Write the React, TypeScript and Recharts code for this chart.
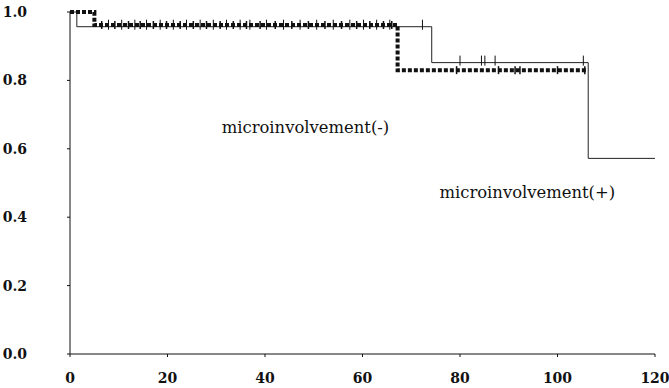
import React from "react";
import {
  ComposedChart,
  Line,
  Scatter,
  XAxis,
  YAxis,
  ReferenceDot,
} from "recharts";

// step points of each Kaplan-Meier curve (months, survival)
const plusTime = [0, 1.4, 74.2, 106.3, 120];
const plusSurv = [1.0, 0.957, 0.852, 0.572, 0.572];
const minusTime = [0, 5, 67.2, 106];
const minusSurv = [1.0, 0.962, 0.83, 0.83];

// censored cases
const plusCensor = [
  7.9, 10.6, 13.3, 15.7, 18.5, 21.2, 23.9, 26.7, 29.4, 32.1, 34.9, 36.9, 40.3,
  43.8, 47.2, 50.6, 54, 57.4, 60.2, 62.9, 65.6, 72.3, 80, 84.4, 85.1, 87.2,
  105.3,
];
const minusCensor = [
  6.5, 9.2, 12, 14.4, 17.1, 19.8, 22.6, 25.3, 28, 30.8, 33.5, 36.2, 39, 42.1,
  45.5, 48.9, 52.3, 55.7, 58.8, 61.5, 64.3, 66, 79.3, 87.9, 91.3, 92.3, 100,
  105.6,
];

const xTicks = [0, 20, 40, 60, 80, 100, 120];
const yTicks = [0, 0.2, 0.4, 0.6, 0.8, 1.0];

const serif = "DejaVu Serif";

function survAt(times: number[], surv: number[], t: number) {
  let s = surv[0];
  times.forEach((tt, i) => {
    if (tt <= t) s = surv[i];
  });
  return s;
}

const plusLine = plusTime.map((t, i) => ({ t, s: plusSurv[i] }));
const minusLine = minusTime.map((t, i) => ({ t, s: minusSurv[i] }));
const plusMarks = plusCensor.map((t) => ({ t, s: survAt(plusTime, plusSurv, t) }));
const minusMarks = minusCensor.map((t) => ({ t, s: survAt(minusTime, minusSurv, t) }));

const TallTick = (p: any) => (
  <line x1={p.cx} x2={p.cx} y1={p.cy - 7} y2={p.cy + 3} stroke="#111" strokeWidth={1} />
);
const ShortTick = (p: any) => (
  <line x1={p.cx} x2={p.cx} y1={p.cy - 4} y2={p.cy + 4} stroke="#111" strokeWidth={1.5} />
);

const AxisTick = (anchor: "middle" | "end", dx: number, dy: number) => (p: any) => (
  <text
    x={p.x + dx}
    y={p.y}
    dy={dy}
    textAnchor={anchor}
    fontFamily={serif}
    fontSize={14}
    fontWeight="bold"
    fill="#111"
  >
    {Number(p.payload.value).toFixed(anchor === "end" ? 1 : 0)}
  </text>
);

const label = (text: string) => (props: any) => {
  const { viewBox } = props;
  return (
    <text
      x={viewBox.x}
      y={viewBox.y}
      textAnchor="middle"
      dominantBaseline="middle"
      fontFamily={serif}
      fontSize={16.4}
      fill="#111"
    >
      {text}
    </text>
  );
};

export default function App() {
  return (
    <div style={{ position: "absolute", left: 0, top: 0, background: "#fff" }}>
      <ComposedChart
        width={669}
        height={388}
        margin={{ top: 12, right: 14, bottom: 4, left: 0 }}
      >
        <XAxis
          dataKey="t"
          type="number"
          domain={[0, 120]}
          ticks={xTicks}
          height={30}
          stroke="#111"
          tickSize={3}
          tickMargin={0}
          tick={AxisTick("middle", 0, 26)}
        />
        <YAxis
          type="number"
          domain={[0, 1]}
          ticks={yTicks}
          width={70}
          stroke="#111"
          tickSize={3}
          tickMargin={0}
          tick={AxisTick("end", -40, 5)}
        />
        <Line
          data={plusLine}
          dataKey="s"
          type="stepAfter"
          stroke="#222"
          strokeWidth={1}
          dot={false}
          isAnimationActive={false}
        />
        <Line
          data={minusLine}
          dataKey="s"
          type="stepAfter"
          stroke="#111"
          strokeWidth={4}
          strokeDasharray="4 2"
          dot={false}
          isAnimationActive={false}
        />
        <Scatter data={plusMarks} dataKey="s" shape={TallTick} isAnimationActive={false} />
        <Scatter data={minusMarks} dataKey="s" shape={ShortTick} isAnimationActive={false} />
        <ReferenceDot x={48.3} y={0.66} r={0} stroke="none" label={label("microinvolvement(-)")} />
        <ReferenceDot x={93.8} y={0.47} r={0} stroke="none" label={label("microinvolvement(+)")} />
      </ComposedChart>
    </div>
  );
}
